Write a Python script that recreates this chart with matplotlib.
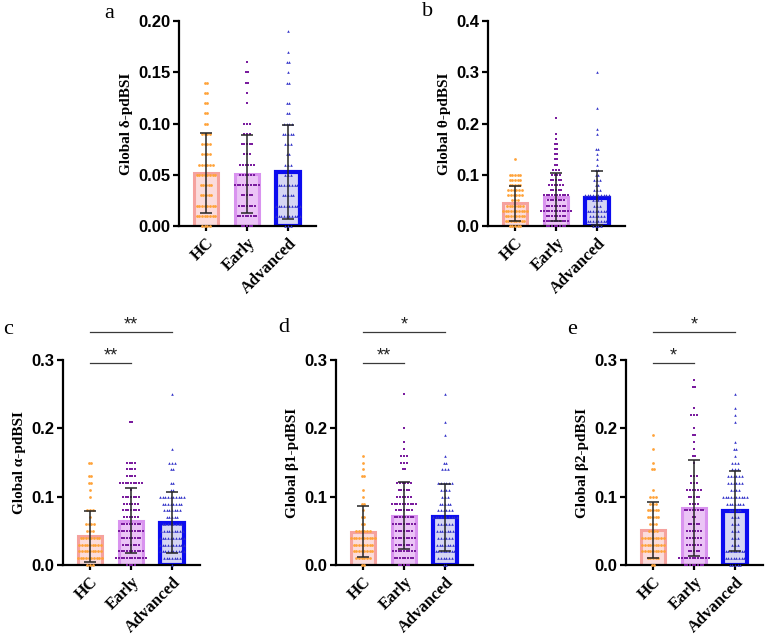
import numpy as np
import matplotlib.pyplot as plt

groups = ['HC', 'Early', 'Advanced']

# number of subjects at each 0.01 step (index 0 -> 0.00, 1 -> 0.01, ...)
delta_hc = [4, 8, 8, 5, 5, 8, 6, 4, 4, 4, 2, 2, 2, 2, 2]
delta_early = [5, 8, 7, 5, 10, 6, 6, 3, 5, 3, 3, 0, 1, 1, 2, 2, 1]
delta_adv = [3, 10, 10, 5, 8, 3, 3, 2, 3, 5, 4, 2, 2, 0, 2, 1, 2, 1, 0, 1]

theta_hc = [5, 8, 8, 10, 7, 3, 6, 6, 5, 5, 5, 0, 0, 1]
theta_early = [8, 10, 8, 12, 8, 7, 10, 5, 6, 5, 4, 3, 2, 2, 2, 2, 2, 1, 1, 0, 0, 1]
theta_adv = [4, 8, 6, 8, 3, 4, 10, 3, 2, 3, 2, 2, 1, 1, 1, 2, 0, 0, 1, 1,
             0, 0, 0, 1, 0, 0, 0, 0, 0, 0, 1]

alpha_hc = [3, 10, 9, 9, 8, 3, 4, 1, 3, 0, 1, 1, 2, 2, 0, 2]
alpha_early = [4, 12, 10, 7, 8, 10, 8, 6, 7, 6, 7, 1, 9, 4, 4, 4, 0, 0, 0, 0, 0, 2]
alpha_adv = [1, 7, 10, 10, 10, 9, 8, 5, 7, 8, 10, 2, 2, 0, 2, 3, 0, 1,
             0, 0, 0, 0, 0, 0, 0, 1]

beta1_hc = [2, 6, 8, 8, 10, 6, 2, 2, 1, 2, 1, 1, 0, 2, 1, 1, 1]
beta1_early = [5, 8, 9, 7, 9, 7, 9, 8, 7, 10, 6, 5, 6, 0, 2, 3, 3, 1, 1, 0,
               1, 0, 0, 0, 0, 1]
beta1_adv = [2, 6, 8, 7, 6, 7, 6, 10, 6, 5, 3, 4, 6, 0, 3, 2, 1, 0, 0, 1,
             0, 1, 0, 0, 0, 1]

beta2_hc = [2, 5, 9, 9, 9, 4, 3, 5, 5, 3, 3, 1, 0, 0, 2, 1, 0, 1, 0, 1]
beta2_early = [8, 12, 5, 6, 6, 6, 5, 2, 8, 4, 5, 6, 3, 3, 0, 1, 2, 1, 1, 2,
               1, 0, 3, 1, 0, 0, 2, 1]
beta2_adv = [5, 8, 8, 3, 3, 3, 3, 3, 5, 7, 10, 4, 6, 6, 3, 3, 1, 2, 1, 0,
             0, 1, 1, 1, 0, 1]

# mean and SD of each group
delta_mean = [0.052, 0.051, 0.053]
delta_sd = [0.039, 0.038, 0.046]
theta_mean = [0.044, 0.057, 0.055]
theta_sd = [0.034, 0.047, 0.053]
alpha_mean = [0.042, 0.065, 0.062]
alpha_sd = [0.037, 0.047, 0.045]
beta1_mean = [0.049, 0.072, 0.070]
beta1_sd = [0.038, 0.049, 0.049]
beta2_mean = [0.051, 0.083, 0.079]
beta2_sd = [0.041, 0.070, 0.059]

# significance: HC vs Early, HC vs Advanced
alpha_sig = ['**', '**']
beta1_sig = ['**', '*']
beta2_sig = ['*', '*']

W, H = 767, 637
fig = plt.figure(figsize=(W / 100, H / 100), dpi=100)

fills = ['#fbdcdc', '#ebc4f6', '#d6d6f3']
edges = ['#f5a29e', '#d993ef', '#0c0cef']
edge_w = [2.2, 2.2, 3.0]
dot_col = ['#ffa33a', '#7a1c9e', '#3232c8']
dot_mark = ['o', 's', '^']
dot_size = [4.0, 4.3, 3.5]
step = 0.065


def panel(left, top, letter, lx, ly, counts, means, sds, ymax, yticks, fmt, ylabel, sig=None):
    ax = fig.add_axes([left / W, 1 - (top + 205) / H, 137 / W, 205 / H])
    x = np.arange(3)
    ax.bar(x, means, width=0.58, color=fills, edgecolor=edges, linewidth=edge_w, zorder=2)
    for i, c in enumerate(counts):
        xs, ys = [], []
        for k, n in enumerate(c):
            if n == 0:
                continue
            off = (np.arange(n) - (n - 1) / 2) * step
            xs.extend(i + off)
            ys.extend([k * 0.01] * n)
        ax.scatter(xs, ys, s=dot_size[i], marker=dot_mark[i], color=dot_col[i],
                   linewidths=0, zorder=3, clip_on=False)
    ax.errorbar(x, means, yerr=sds, fmt='none', ecolor='#262626', elinewidth=1.1,
                capsize=4.5, capthick=1.1, zorder=4)
    ax.set_xlim(-0.66, 2.68)
    ax.set_ylim(0, ymax)
    for s in ['top', 'right']:
        ax.spines[s].set_visible(False)
    for s in ['left', 'bottom']:
        ax.spines[s].set_linewidth(1.6)
    ax.set_yticks(yticks, [fmt.format(t) for t in yticks], fontfamily='Liberation Sans',
                  fontweight='bold', fontsize=12)
    ax.set_xticks(x, groups, rotation=45, ha='right', rotation_mode='anchor',
                  fontfamily='Liberation Serif', fontweight='bold', fontsize=12)
    ax.tick_params(axis='y', length=4, width=1.6, pad=2)
    ax.tick_params(axis='x', length=3.5, width=1.6, pad=3)
    ax.set_ylabel(ylabel, fontfamily='Liberation Serif', fontweight='bold', fontsize=11)
    fig.text(lx / W, 1 - ly / H, letter, fontfamily='Liberation Serif', fontsize=16,
             ha='center', va='center')
    if sig:
        for (x2, yl, st) in [(1, 0.296, sig[0]), (2, 0.341, sig[1])]:
            ax.plot([0, x2], [yl, yl], color='#3a3a3a', lw=0.9, clip_on=False)
            ax.text(x2 / 2, yl + 0.004, st, ha='center', va='baseline',
                    fontfamily='Liberation Sans', fontsize=13, color='#222222')
    return ax


panel(179, 21, 'a', 109, 13, [delta_hc, delta_early, delta_adv], delta_mean, delta_sd,
      0.20, [0, 0.05, 0.10, 0.15, 0.20], '{:.2f}', 'Global δ-pdBSI')
panel(488, 21, 'b', 428, 12, [theta_hc, theta_early, theta_adv], theta_mean, theta_sd,
      0.4, [0, 0.1, 0.2, 0.3, 0.4], '{:.1f}', 'Global θ-pdBSI')
panel(63, 360, 'c', 8, 330, [alpha_hc, alpha_early, alpha_adv], alpha_mean, alpha_sd,
      0.3, [0, 0.1, 0.2, 0.3], '{:.1f}', 'Global α-pdBSI', alpha_sig)
panel(336, 360, 'd', 284, 328, [beta1_hc, beta1_early, beta1_adv], beta1_mean, beta1_sd,
      0.3, [0, 0.1, 0.2, 0.3], '{:.1f}', 'Global β1-pdBSI', beta1_sig)
panel(626, 360, 'e', 572, 330, [beta2_hc, beta2_early, beta2_adv], beta2_mean, beta2_sd,
      0.3, [0, 0.1, 0.2, 0.3], '{:.1f}', 'Global β2-pdBSI', beta2_sig)

fig.savefig('out.png', dpi=100)
